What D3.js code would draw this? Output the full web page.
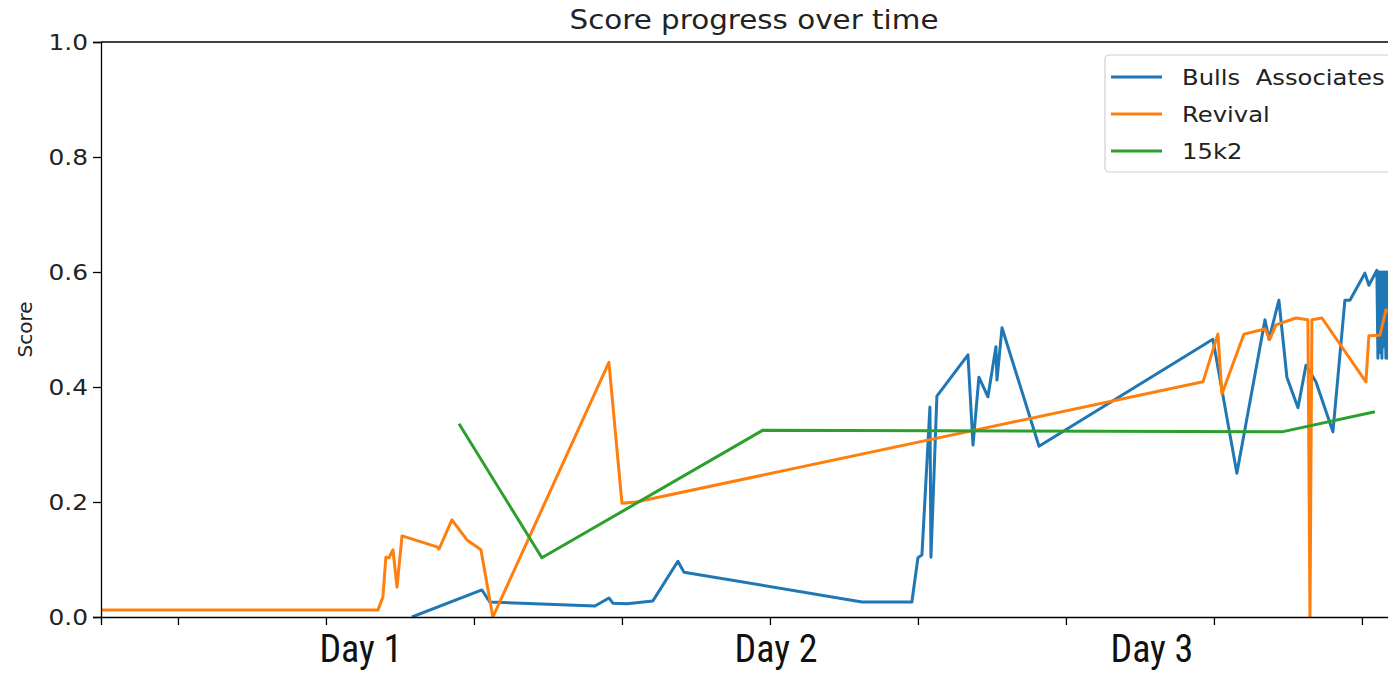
<!DOCTYPE html>
<html>
<head>
<meta charset="utf-8">
<script src="https://cdn.jsdelivr.net/npm/d3@7"></script>
<style>
  body { margin: 0; background: #fff; }
  text { font-family: "DejaVu Sans", sans-serif; }
</style>
</head>
<body>
<div id="chart"></div>
<script>
// time is in tick units (one minor tick per step)
const seriesNames = ['Bulls  Associates', 'Revival', '15k2'];
const colors = ['#1f77b4', '#ff7f0e', '#2ca02c'];

const bullsT = [1.581, 2.054, 2.108, 2.818, 2.912, 2.939, 3.034, 3.209, 3.378, 3.419, 4.622, 4.959, 5.000, 5.027,
  5.081, 5.088, 5.128, 5.338, 5.372, 5.412, 5.473, 5.527, 5.534, 5.568, 5.818, 6.993, 7.155, 7.345, 7.372,
  7.439, 7.493, 7.568, 7.622, 7.689, 7.804, 7.885, 7.919, 8.020, 8.047, 8.101, 8.108, 8.115, 8.122, 8.128,
  8.135, 8.142, 8.149, 8.155, 8.162, 8.169, 8.176, 8.183];
const bullsScore = [0.0, 0.047, 0.026, 0.019, 0.033, 0.024, 0.023, 0.028, 0.097, 0.078, 0.026, 0.026, 0.103, 0.108,
  0.365, 0.104, 0.384, 0.456, 0.299, 0.417, 0.383, 0.470, 0.412, 0.503, 0.297, 0.483, 0.250, 0.517, 0.483,
  0.551, 0.417, 0.364, 0.438, 0.409, 0.322, 0.551, 0.551, 0.598, 0.577, 0.603, 0.45, 0.60, 0.46, 0.60,
  0.45, 0.60, 0.47, 0.60, 0.45, 0.60, 0.45, 0.60];

const revivalT = [-0.520, 1.351, 1.385, 1.405, 1.426, 1.453, 1.480, 1.514, 1.750, 1.764, 1.851, 1.953, 2.047,
  2.128, 2.912, 3.000, 3.095, 6.926, 7.027, 7.054, 7.203, 7.345, 7.378, 7.419, 7.554, 7.635, 7.649, 7.662,
  7.730, 8.027, 8.047, 8.122, 8.135, 8.162, 8.190];
const revivalScore = [0.012, 0.012, 0.035, 0.104, 0.103, 0.117, 0.052, 0.141, 0.122, 0.118, 0.169, 0.134, 0.117,
  0.0, 0.443, 0.198, 0.200, 0.409, 0.492, 0.388, 0.492, 0.501, 0.483, 0.508, 0.520, 0.517, 0.0, 0.517,
  0.520, 0.409, 0.489, 0.490, 0.504, 0.534, 0.53];

const k2T = [1.899, 2.459, 3.953, 7.459, 8.088];
const k2Score = [0.336, 0.103, 0.325, 0.322, 0.357];

const xTicks = [0, 1, 2, 3, 4, 5, 6, 7, 8];
const yTicks = [0, 0.2, 0.4, 0.6, 0.8, 1.0];
const dayLabels = ['Day 1', 'Day 2', 'Day 3'];
const dayPos = [1.236, 4.041, 6.581];

const W = 1388, H = 674;
const m = { left: 101, top: 42, right: 1401, bottom: 617 };
const stretch = 1.13; // the picture is a bit wider than tall

const svg = d3.select('#chart').append('svg')
  .attr('width', W).attr('height', H);

const x = d3.scaleLinear().domain([-0.52, 8.264]).range([m.left, m.right]);
const y = d3.scaleLinear().domain([0, 1]).range([m.bottom, m.top]);

// widen text around its anchor x
function widen(sel, x0) {
  sel.attr('transform', `translate(${x0},0) scale(${stretch},1) translate(${-x0},0)`);
}

svg.append('clipPath').attr('id', 'clip')
  .append('rect').attr('x', m.left).attr('y', m.top)
  .attr('width', m.right - m.left).attr('height', m.bottom - m.top);

const series = [
  { t: bullsT, v: bullsScore },
  { t: revivalT, v: revivalScore },
  { t: k2T, v: k2Score }
];

const line = d3.line().x(d => x(d[0])).y(d => y(d[1]));

const plot = svg.append('g').attr('clip-path', 'url(#clip)');
series.forEach(function (s, i) {
  plot.append('path')
    .datum(s.t.map((t, j) => [t, s.v[j]]))
    .attr('d', line)
    .attr('fill', 'none')
    .attr('stroke', colors[i])
    .attr('stroke-width', 3)
    .attr('stroke-linejoin', 'round');
});

// axes
const yAxis = svg.append('g').attr('transform', `translate(${m.left},0)`)
  .call(d3.axisLeft(y).tickValues(yTicks).tickFormat(d3.format('.1f')).tickSizeOuter(0).tickSize(8).tickPadding(5));
yAxis.select('.domain').attr('stroke', '#000').attr('stroke-width', 1.3);
yAxis.selectAll('.tick line').attr('stroke', '#000').attr('stroke-width', 1.3);
yAxis.selectAll('.tick text')
  .attr('font-size', 22).attr('fill', '#222')
  .style('font-family', '"DejaVu Sans", sans-serif')
  .attr('x', -13 / stretch)
  .attr('transform', `scale(${stretch},1)`);

const xAxis = svg.append('g').attr('transform', `translate(0,${m.bottom})`)
  .call(d3.axisBottom(x).tickValues(xTicks).tickFormat('').tickSizeOuter(0).tickSize(8));
xAxis.select('.domain').attr('stroke', '#000').attr('stroke-width', 1.3);
xAxis.selectAll('.tick line').attr('stroke', '#000').attr('stroke-width', 1.3);

svg.append('line')
  .attr('x1', m.left).attr('x2', m.right)
  .attr('y1', m.top).attr('y2', m.top)
  .attr('stroke', '#000').attr('stroke-width', 1.3);

// day labels pasted under the axis
svg.selectAll('.day').data(dayLabels).enter().append('text')
  .attr('class', 'day')
  .attr('x', (d, i) => x(dayPos[i]))
  .attr('y', 662)
  .attr('text-anchor', 'middle')
  .attr('font-size', 38)
  .style('font-family', '"Liberation Sans Narrow", "Roboto Condensed", "Liberation Sans", sans-serif')
  .attr('fill', '#111')
  .text(d => d);

const title = svg.append('text')
  .attr('x', 754).attr('y', 29)
  .attr('text-anchor', 'middle').attr('font-size', 26).attr('fill', '#222')
  .text('Score progress over time');
widen(title, 754);

svg.append('text')
  .attr('transform', `translate(32,${(m.top + m.bottom) / 2}) rotate(-90)`)
  .attr('text-anchor', 'middle').attr('font-size', 20).attr('fill', '#222')
  .text('Score');

// legend
const leg = svg.append('g');
leg.append('rect')
  .attr('x', 1105).attr('y', 55).attr('width', 300).attr('height', 117)
  .attr('rx', 4).attr('fill', '#fff').attr('fill-opacity', 0.85)
  .attr('stroke', '#d0d0d0').attr('stroke-width', 1.2);
seriesNames.forEach(function (name, i) {
  const ly = 77 + i * 37;
  leg.append('line')
    .attr('x1', 1111).attr('x2', 1162).attr('y1', ly).attr('y2', ly)
    .attr('stroke', colors[i]).attr('stroke-width', 3);
  const t = leg.append('text')
    .attr('x', 1182).attr('y', ly + 8)
    .attr('font-size', 21.5).attr('fill', '#222')
    .style('white-space', 'pre')
    .text(name);
  widen(t, 1182);
});
</script>
</body>
</html>
